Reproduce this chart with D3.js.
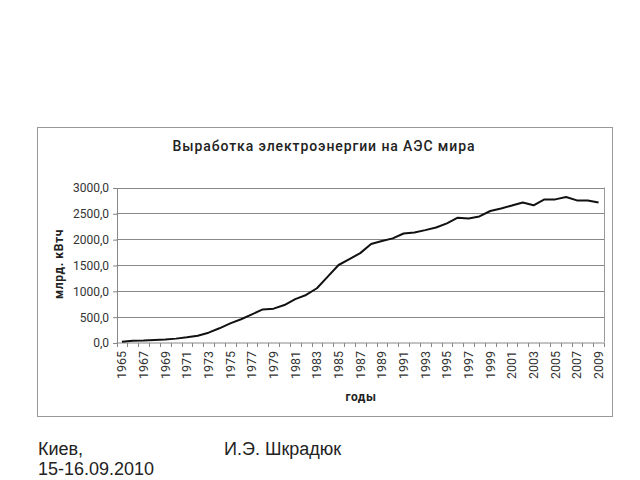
<!DOCTYPE html>
<html><head><meta charset="utf-8">
<script src="https://cdn.jsdelivr.net/npm/d3@7"></script>
<style>body{margin:0;background:#fff}svg{display:block}</style>
</head><body>
<svg id="c" width="640" height="480"></svg>
<script>
const years = d3.range(1965, 2010);
const values = [15,35,40,50,60,75,100,130,190,275,370,450,545,640,655,725,840,920,1050,1275,1500,1615,1730,1905,1965,2015,2110,2130,2175,2225,2305,2415,2400,2440,2545,2595,2650,2710,2655,2770,2770,2815,2750,2750,2710];
const yTicks = [0,500,1000,1500,2000,2500,3000];
const xTickLabels = years.filter((y,i)=>i%2===0);

(function(){
const svg = d3.select("#c");
const cf = "Roboto, 'Liberation Sans', sans-serif";
const font = "'Liberation Sans', Arial, sans-serif";
const pL = 116.5, pR = 604, pT = 187.5, pB = 342.5;

svg.append("rect").attr("x",37.5).attr("y",127.5).attr("width",575).attr("height",289)
  .attr("fill","#fff").attr("stroke","#999").attr("stroke-width",1);

const x = d3.scaleBand().domain(years).range([pL,pR]).padding(0);
const y = d3.scaleLinear().domain([0,3000]).range([pB,pT]);

svg.append("g").selectAll("line").data(yTicks.slice(1)).join("line")
  .attr("x1",pL).attr("x2",pR).attr("y1",d=>Math.round(y(d))+0.5).attr("y2",d=>Math.round(y(d))+0.5)
  .attr("stroke","#888").attr("stroke-width",1);
svg.append("line").attr("x1",pR+0.5).attr("x2",pR+0.5).attr("y1",pT).attr("y2",pB).attr("stroke","#999");

const ya = svg.append("g").attr("transform",`translate(${pL+0.5},0.5)`)
  .call(d3.axisLeft(y).tickValues(yTicks).tickSize(4).tickPadding(4).tickFormat(d=>d3.format(".1f")(d).replace(".",",")));
ya.selectAll("path,line").attr("stroke","#888");
ya.selectAll("text").attr("font-family",cf).attr("font-size",12).attr("fill","#333");

const xa = svg.append("g").attr("transform",`translate(0,${pB+0.5})`);
xa.append("line").attr("x1",pL).attr("x2",pR).attr("stroke","#888");
xa.selectAll("line.t").data(d3.range(years.length+1)).join("line").attr("class","t")
  .attr("x1",i=>Math.round(pL+i*x.bandwidth())+0.5).attr("x2",i=>Math.round(pL+i*x.bandwidth())+0.5)
  .attr("y1",0).attr("y2",4).attr("stroke","#888");
xa.selectAll("text").data(xTickLabels).join("text")
  .attr("transform",d=>`translate(${x(d)+x.bandwidth()/2+4.5},8) rotate(-90)`)
  .attr("text-anchor","end").attr("font-family",cf).attr("font-size",12.5).attr("fill","#333")
  .text(d=>d);

svg.append("path").datum(values)
  .attr("d", d3.line().x((d,i)=>x(years[i])+x.bandwidth()/2).y(d=>y(d)))
  .attr("fill","none").attr("stroke","#111").attr("stroke-width",2).attr("stroke-linejoin","round");

svg.append("text").attr("x",324).attr("y",151).attr("text-anchor","middle")
  .attr("font-family",cf).attr("font-size",14).attr("font-weight",500).attr("letter-spacing",0.9)
  .attr("fill","#222").text("Выработка электроэнергии на АЭС мира");
svg.append("text").attr("transform","translate(63,264) rotate(-90)").attr("text-anchor","middle")
  .attr("font-family",cf).attr("font-size",12).attr("font-weight","bold").attr("letter-spacing",0.6).attr("fill","#222").text("млрд. кВтч");
svg.append("text").attr("x",361).attr("y",401).attr("text-anchor","middle")
  .attr("font-family",cf).attr("font-size",12).attr("font-weight","bold").attr("letter-spacing",0.6).attr("fill","#222").text("годы");

svg.append("text").attr("x",38).attr("y",455).attr("font-family",font).attr("font-size",18).attr("fill","#222").text("Киев,");
svg.append("text").attr("x",38).attr("y",475).attr("font-family",font).attr("font-size",18).attr("fill","#222").text("15-16.09.2010");
svg.append("text").attr("x",224).attr("y",455).attr("font-family",font).attr("font-size",18).attr("fill","#222").text("И.Э. Шкрадюк");
})();
</script>
</body></html>
